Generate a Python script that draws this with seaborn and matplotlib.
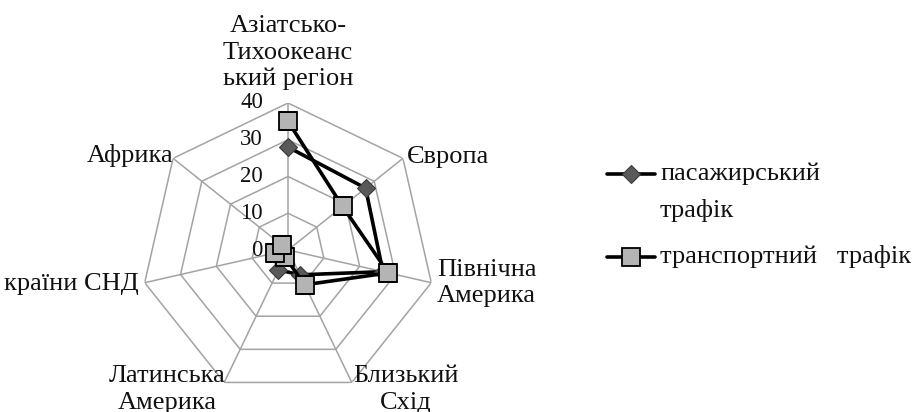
import numpy as np
import pandas as pd
import matplotlib
matplotlib.use("Agg")
import matplotlib.pyplot as plt
import seaborn as sns
from matplotlib.lines import Line2D

categories = ["Азіатсько-\nТихоокеанс\nький регіон", "Європа", "Північна\nАмерика",
              "Близький\nСхід", "Латинська\nАмерика", "країни СНД", "Африка"]
passenger = [28, 27, 26.5, 7.5, 6, 4, 2]
transport = [35, 19, 28, 10.5, 2, 3.5, 2]
series_names = ["пасажирський\nтрафік", "транспортний   трафік"]
ticks = [0, 10, 20, 30, 40]

sns.set_theme(style="white")
plt.rcParams['font.family'] = ['Liberation Serif', 'DejaVu Serif']

W, H = 916, 412
fig = plt.figure(figsize=(W / 100, H / 100), dpi=100)
cx, cy, R = 288, 250, 147
ax = fig.add_axes([(cx - R) / W, (H - cy - R) / H, 2 * R / W, 2 * R / H], projection='polar')
ax.set_theta_offset(np.pi / 2)
ax.set_theta_direction(-1)
ax.set_ylim(0, 40)
ax.grid(False)
ax.spines['polar'].set_visible(False)
ax.set_xticks([])
ax.set_yticks([])
ax.set_facecolor('none')

n = len(categories)
theta = np.linspace(0, 2 * np.pi, n, endpoint=False)
tclosed = np.append(theta, theta[0])

# heptagon grid
for t in ticks[1:]:
    ax.plot(tclosed, [t] * (n + 1), color='#a3a3a3', lw=1.1, zorder=1)
for th in theta:
    ax.plot([th, th], [0, 40], color='#a3a3a3', lw=1.1, zorder=1)

df = pd.DataFrame({
    'theta': np.concatenate([tclosed, tclosed]),
    'value': passenger + [passenger[0]] + transport + [transport[0]],
    'series': [series_names[0]] * (n + 1) + [series_names[1]] * (n + 1),
})

pas_style = dict(color='black', lw=2.6, marker='D', markersize=9, markerfacecolor='#595959',
                 markeredgecolor='#3a3a3a', markeredgewidth=0.8)
tr_style = dict(color='black', lw=2.6, marker='s', markersize=12.5, markerfacecolor='#b4b4b4',
                markeredgecolor='black', markeredgewidth=1.3)

sns.lineplot(data=df[df.series == series_names[0]], x='theta', y='value', sort=False, ax=ax,
             zorder=3, legend=False, **pas_style)
sns.lineplot(data=df[df.series == series_names[1]], x='theta', y='value', sort=False, ax=ax,
             zorder=4, legend=False, **tr_style)
ax.set_xlabel('')
ax.set_ylabel('')
ax.set_ylim(0, 40)

fs = 19
tfs = 16.5
for t in ticks:
    ax.annotate(str(t), xy=(0, t), xytext=(-18, 0), textcoords='offset points',
                ha='right', va='center', fontsize=tfs, zorder=6, color='#111111')

# category labels
place = [
    dict(off=(0, 9), ha='center', va='bottom'),
    dict(off=(3, 1), ha='left', va='center'),
    dict(off=(4, 0), ha='left', va='center'),
    dict(off=(1, -5), ha='left', va='center'),
    dict(off=(1, -5), ha='right', va='center'),
    dict(off=(-4, -1), ha='right', va='center'),
    dict(off=(0, 2), ha='right', va='center'),
]
for th, lab, p in zip(theta, categories, place):
    ax.annotate(lab, xy=(th, 40), xytext=p['off'], textcoords='offset points',
                ha=p['ha'], va=p['va'], fontsize=fs, multialignment='center',
                linespacing=1.25, annotation_clip=False, color='#111111')

# legend (drawn in figure pixel coordinates)
def fx(x):
    return x / W

def fy(y):
    return 1 - y / H

for (y, style) in [(174, pas_style), (257, tr_style)]:
    fig.add_artist(Line2D([fx(607), fx(655)], [fy(y), fy(y)], transform=fig.transFigure,
                          color='black', lw=2.6))
    st = dict(style)
    st.pop('lw'); st.pop('color')
    fig.add_artist(Line2D([fx(631)], [fy(y)], transform=fig.transFigure, linestyle='none', **st))

lab1 = series_names[0].split('\n')
fig.text(fx(660), fy(174), lab1[0], ha='left', va='center', fontsize=fs, color='#111111')
fig.text(fx(660), fy(211), lab1[1], ha='left', va='center', fontsize=fs, color='#111111')
fig.text(fx(660), fy(257), series_names[1], ha='left', va='center', fontsize=fs, color='#111111')

fig.savefig('out.png', dpi=100)
